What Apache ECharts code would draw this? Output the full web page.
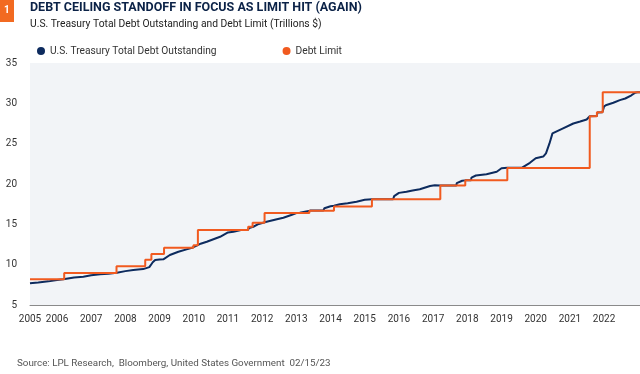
<!DOCTYPE html>
<html>
<head>
<meta charset="utf-8">
<script src="https://cdn.jsdelivr.net/npm/echarts@6/dist/echarts.min.js"></script>
<style>
html,body{margin:0;padding:0;background:#fff;}
#c{width:640px;height:374px;}
</style>
</head>
<body>
<div id="c"></div>
<script>
const titleText = 'DEBT CEILING STANDOFF IN FOCUS AS LIMIT HIT (AGAIN)';
const subtitleText = 'U.S. Treasury Total Debt Outstanding and Debt Limit (Trillions $)';
const sourceText = 'Source: LPL Research,  Bloomberg, United States Government  02/15/23';
const seriesNames = ['U.S. Treasury Total Debt Outstanding', 'Debt Limit'];

// x positions in decimal years
const xMin = 2005.21;
const xMax = 2023.05;
const yearLabels = [2005.21, 2006, 2007, 2008, 2009, 2010, 2011, 2012, 2013, 2014, 2015, 2016, 2017, 2018, 2019, 2020, 2021, 2022];

const debtYears = [2005.21, 2005.45, 2005.75, 2006.00, 2006.18, 2006.50, 2006.77, 2007.00, 2007.26, 2007.50, 2007.75, 2008.00, 2008.23, 2008.52, 2008.70, 2008.80, 2008.87, 2009.00, 2009.11, 2009.30, 2009.55, 2009.79, 2009.95, 2010.10, 2010.20, 2010.38, 2010.77, 2011.00, 2011.16, 2011.38, 2011.58, 2011.62, 2011.74, 2011.90, 2012.13, 2012.40, 2012.62, 2012.85, 2013.00, 2013.10, 2013.25, 2013.40, 2013.79, 2013.82, 2014.00, 2014.10, 2014.27, 2014.50, 2014.76, 2015.00, 2015.22, 2015.83, 2015.86, 2016.00, 2016.22, 2016.40, 2016.61, 2016.91, 2017.05, 2017.20, 2017.68, 2017.69, 2017.85, 2017.94, 2018.11, 2018.12, 2018.25, 2018.56, 2018.86, 2019.00, 2019.17, 2019.59, 2019.62, 2019.83, 2020.00, 2020.22, 2020.30, 2020.40, 2020.49, 2020.80, 2021.10, 2021.30, 2021.49, 2021.58, 2021.79, 2021.80, 2021.95, 2021.97, 2022.00, 2022.07, 2022.27, 2022.46, 2022.62, 2022.80, 2022.90, 2022.98, 2023.05];
const debtValues = [7.70, 7.80, 7.93, 8.10, 8.18, 8.42, 8.51, 8.68, 8.82, 8.87, 9.00, 9.20, 9.34, 9.45, 9.70, 10.30, 10.58, 10.65, 10.66, 11.20, 11.60, 11.90, 12.10, 12.39, 12.60, 12.84, 13.46, 14.00, 14.08, 14.29, 14.30, 14.55, 14.70, 15.05, 15.32, 15.60, 15.82, 16.15, 16.40, 16.43, 16.57, 16.70, 16.70, 17.00, 17.25, 17.30, 17.50, 17.62, 17.80, 18.05, 18.11, 18.11, 18.50, 18.90, 19.04, 19.20, 19.34, 19.75, 19.85, 19.81, 19.81, 20.10, 20.40, 20.45, 20.45, 20.80, 21.05, 21.20, 21.52, 21.95, 22.00, 22.00, 22.20, 22.63, 23.20, 23.40, 23.80, 25.00, 26.28, 26.90, 27.50, 27.75, 28.00, 28.40, 28.42, 28.85, 28.90, 28.95, 29.62, 29.80, 30.07, 30.40, 30.60, 31.00, 31.30, 31.38, 31.38];

const limitYears = [2005.21, 2006.21, 2007.74, 2008.58, 2008.76, 2009.13, 2009.99, 2010.12, 2011.59, 2011.72, 2012.07, 2013.38, 2014.10, 2015.21, 2017.21, 2017.94, 2019.17, 2021.58, 2021.79, 2021.96, 2023.05];
const limitValues = [8.18, 8.965, 9.815, 10.615, 11.315, 12.104, 12.394, 14.294, 14.694, 15.194, 16.394, 16.699, 17.212, 18.113, 19.809, 20.456, 21.988, 28.401, 28.881, 31.381, 31.381];

const NAVY = '#0d2b5e';
const ORANGE = '#f15a1f';
const FONT = 'Roboto';

const chart = echarts.init(document.getElementById('c'), null, {renderer: 'canvas'});
chart.setOption({
  animation: false,
  backgroundColor: '#ffffff',
  textStyle: {fontFamily: FONT},
  title: [
    {text: titleText, left: 30, top: 1, padding: 0, textStyle: {fontFamily: FONT, fontSize: 12.5, fontWeight: 'bold', color: '#0b2247'}},
    {text: subtitleText, left: 30, top: 19, padding: 0, textStyle: {fontFamily: FONT, fontSize: 10.3, fontWeight: 'normal', color: '#222'}},
    {text: sourceText, left: 17, top: 359, padding: 0, textStyle: {fontFamily: FONT, fontSize: 9.8, fontWeight: 'normal', color: '#555'}}
  ],
  graphic: [
    {type: 'rect', left: 0, top: 0, shape: {width: 14, height: 22}, style: {fill: '#f26a21'}},
    {type: 'text', left: 4, top: 5, style: {text: '1', fill: '#fff', font: 'bold 10px Roboto'}}
  ],
  legend: {
    left: 37, top: 46, padding: 0, itemWidth: 8, itemHeight: 8, itemGap: 66, icon: 'circle',
    textStyle: {fontFamily: FONT, fontSize: 10.2, color: '#333'},
    data: seriesNames
  },
  grid: {left: 30, right: 0, top: 63, bottom: 69, show: true, backgroundColor: '#f2f4f7', borderWidth: 0},
  xAxis: {
    type: 'value', min: xMin, max: xMax,
    axisLine: {show: true, lineStyle: {color: '#8a8a8a', width: 1}},
    axisTick: {show: false},
    splitLine: {show: false},
    axisLabel: {
      customValues: yearLabels,
      formatter: v => String(Math.floor(v)),
      fontFamily: FONT, fontSize: 10, color: '#333', margin: 9
    }
  },
  yAxis: {
    type: 'value', min: 5, max: 35, interval: 5,
    axisLine: {show: false}, axisTick: {show: false}, splitLine: {show: false},
    axisLabel: {fontFamily: FONT, fontSize: 10, color: '#333', margin: 13}
  },
  series: [
    {
      name: seriesNames[0], type: 'line', showSymbol: false, z: 2,
      data: debtYears.map((x, i) => [x, debtValues[i]]),
      itemStyle: {color: NAVY},
      lineStyle: {color: NAVY, width: 2}
    },
    {
      name: seriesNames[1], type: 'line', step: 'end', showSymbol: false, z: 3,
      data: limitYears.map((x, i) => [x, limitValues[i]]),
      itemStyle: {color: ORANGE},
      lineStyle: {color: ORANGE, width: 2}
    }
  ]
});
</script>
</body>
</html>
